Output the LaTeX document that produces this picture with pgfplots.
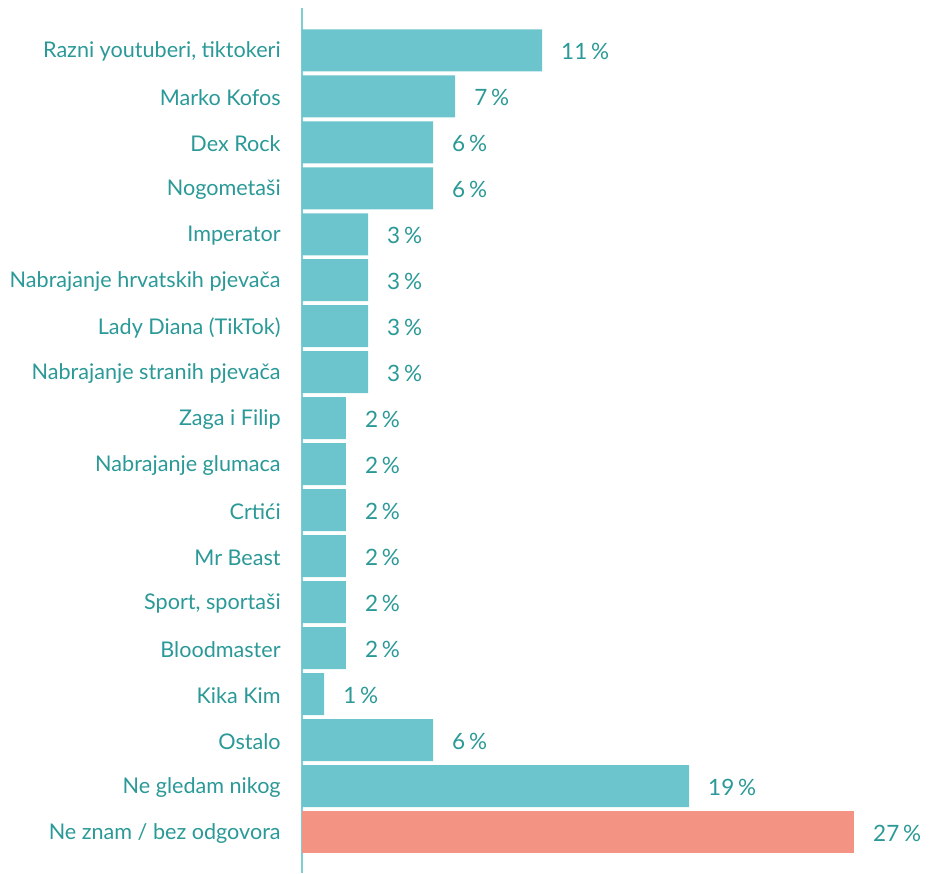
\documentclass[border=0pt]{standalone}
\usepackage{fontspec}
\setmainfont{Lato}
\usepackage{pgfplots}
\pgfplotsset{compat=1.18}
\definecolor{barteal}{HTML}{6CC5CD}
\definecolor{barsalmon}{HTML}{F29383}
\definecolor{txtteal}{HTML}{2A9997}
\definecolor{axteal}{HTML}{7FCCD3}
\begin{document}
\begin{tikzpicture}
  \begin{axis}[
      name=ax,
      xbar,
      scale only axis,
      width=552pt,
      height=865pt,
      xmin=0, xmax=27.0,
      ymin=-0.92, ymax=17.89,
      y dir=reverse,
      bar width=42pt,
      bar shift=0pt,
      axis y line=left,
      axis x line=none,
      y axis line style={-, draw=axteal, line width=1.5pt},
      xtick=\empty,
      ytick={0,...,17},
      ytick style={draw=none},
      yticklabels={{Razni youtuberi, tiktokeri},Marko Kofos,Dex Rock,Nogometaši,Imperator,Nabrajanje hrvatskih pjevača,Lady Diana (TikTok),Nabrajanje stranih pjevača,Zaga i Filip,Nabrajanje glumaca,Crtići,Mr Beast,{Sport, sportaši},Bloodmaster,Kika Kim,Ostalo,Ne gledam nikog,Ne znam / bez odgovora},
      yticklabel style={font=\fontsize{21.6}{25}\selectfont, text=txtteal, inner sep=0pt, xshift=-19pt, yshift=-1.5pt},
      point meta=explicit symbolic,
      nodes near coords,
      nodes near coords style={font=\fontsize{22.5}{26}\selectfont, text=txtteal, anchor=west, inner sep=0pt, xshift=19pt, yshift=-1pt},
      clip=false,
    ]
    \addplot[fill=barteal, draw=none] coordinates {
      (11.74,0) [11\,\%]
      (7.49,1) [7\,\%]
      (6.41,2) [6\,\%]
      (6.41,3) [6\,\%]
      (3.23,4) [3\,\%]
      (3.23,5) [3\,\%]
      (3.23,6) [3\,\%]
      (3.23,7) [3\,\%]
      (2.15,8) [2\,\%]
      (2.15,9) [2\,\%]
      (2.15,10) [2\,\%]
      (2.15,11) [2\,\%]
      (2.15,12) [2\,\%]
      (2.15,13) [2\,\%]
      (1.08,14) [1\,\%]
      (6.41,15) [6\,\%]
      (18.93,16) [19\,\%]
    };
    \addplot[fill=barsalmon, draw=none] coordinates {
      (27.0,17) [27\,\%]
    };
  \end{axis}
  \path[use as bounding box] (ax.south west) ++(-302pt,0) rectangle ++(931pt,873pt);
\end{tikzpicture}
\end{document}
